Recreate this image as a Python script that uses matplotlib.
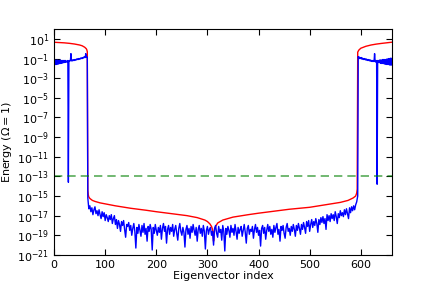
import matplotlib
matplotlib.use("Agg")
import matplotlib.pyplot as plt
import numpy as np

# red curve: (index, log10 energy)
red_x = [0, 10, 20, 30, 40, 50, 55, 60, 63, 64, 65, 66, 67, 68, 70, 75, 80, 90,
         100, 120, 150, 180, 200, 230, 260, 280, 295, 300, 305, 308, 310, 311,
         312, 313, 314, 316, 320, 330, 350, 380, 400, 430, 460, 500, 530, 560,
         575, 585, 590, 592, 593, 594, 596, 600, 610, 620, 630, 640, 650, 660]
red_log = [0.66, 0.63, 0.6, 0.55, 0.48, 0.38, 0.3, 0.15, 0.0, -0.1, -0.3, -14.4,
           -14.9, -15.1, -15.25, -15.45, -15.55, -15.7, -15.8, -16.0, -16.25,
           -16.45, -16.6, -16.8, -17.0, -17.2, -17.45, -17.6, -17.85, -18.1,
           -18.4, -18.7, -19.6, -18.9, -18.5, -18.1, -17.75, -17.45, -17.15,
           -16.9, -16.75, -16.55, -16.35, -16.15, -15.9, -15.65, -15.45, -15.2,
           -15.0, -14.7, -14.3, -0.35, -0.15, 0.05, 0.25, 0.38, 0.47, 0.54,
           0.6, 0.66]

# blue curve, left block (indices 0..65)
blue_left = [-1.1, -1.65, -1.15, -1.6, -1.2, -1.6, -1.15, -1.55, -1.2, -1.55,
             -1.2, -1.5, -1.15, -1.5, -1.2, -1.45, -1.2, -1.45, -1.2, -1.4,
             -1.2, -1.4, -1.2, -1.35, -1.25, -1.35, -1.3, -1.2, -13.6, -1.3,
             -1.2, -1.25, -1.2, -0.5, -1.2, -1.25, -1.15, -1.2, -1.15, -1.2,
             -1.1, -1.15, -1.1, -1.15, -1.05, -1.1, -1.05, -1.1, -1.0, -1.05,
             -1.0, -1.05, -0.95, -1.0, -0.95, -1.0, -0.9, -0.95, -0.85, -0.9,
             -0.85, -0.9, -0.5, -0.85, -0.8, -0.9]

# blue curve, middle block (indices 66..594, every 2nd)
blue_mid = [
    -15.2, -16.3, -16.0, -16.6, -16.2, -16.9, -16.4, -16.1, -16.8, -16.5,
    -17.0, -16.4, -16.9, -17.3, -16.6, -17.1, -16.7, -17.5, -16.9, -17.2,
    -17.6, -17.0, -17.4, -16.9, -17.8, -17.3, -17.0, -17.9, -17.4, -18.3,
    -17.5, -17.9, -18.6, -17.6, -18.0, -17.5, -18.4, -19.2, -17.9, -18.1,
    -17.7, -18.5, -18.0, -19.0, -18.3, -17.8, -18.6, -20.3, -18.2, -18.8,
    -17.9, -18.5, -19.1, -18.0, -18.7, -17.8, -18.9, -18.3, -19.6, -18.1,
    -18.6, -17.9, -18.4, -20.5, -18.2, -18.8, -17.9, -18.5, -19.0, -18.2,
    -18.7, -18.0, -19.4, -18.3, -17.8, -18.6, -18.1, -19.8, -18.4, -18.0,
    -18.9, -18.2, -18.6, -17.9, -19.1, -18.4, -18.0, -18.8, -19.5, -18.3,
    -17.8, -18.6, -19.0, -18.2, -18.7, -20.2, -18.4, -18.0, -18.9, -18.3,
    -19.3, -18.1, -18.7, -17.9, -18.5, -19.0, -18.2, -19.6, -18.4, -18.0,
    -18.8, -18.3, -19.1, -18.0, -18.6, -20.4, -18.5, -18.1, -18.9, -18.4,
    -18.2, -19.0, -18.6, -20.0, -18.3, -18.0, -18.8, -19.2, -18.1, -18.7,
    -18.4, -19.5, -18.0, -18.6, -20.6, -18.3, -18.9, -18.1, -18.5, -19.2,
    -18.0, -18.7, -18.3, -19.0, -17.9, -18.6, -19.4, -18.2, -18.8, -18.4,
    -18.1, -19.1, -18.5, -17.9, -18.7, -19.8, -18.3, -18.0, -18.9, -18.4,
    -18.6, -18.1, -19.3, -18.4, -17.9, -18.7, -18.2, -19.0, -18.5, -20.1,
    -18.3, -18.0, -18.8, -18.2, -19.4, -18.5, -17.9, -18.6, -18.1, -18.9,
    -18.4, -19.2, -18.0, -18.7, -18.2, -17.8, -18.9, -18.4, -19.6, -18.1,
    -18.5, -18.0, -18.8, -19.3, -18.2, -17.8, -18.6, -18.3, -19.0, -18.1,
    -18.6, -17.9, -18.4, -19.1, -18.0, -18.5, -17.8, -18.3, -18.9, -17.9,
    -18.4, -17.7, -18.2, -18.8, -17.6, -18.1, -17.5, -18.6, -17.9, -17.4,
    -18.2, -17.6, -18.0, -17.3, -17.8, -18.7, -17.4, -17.9, -17.2, -17.7,
    -17.1, -17.8, -17.3, -18.4, -16.9, -17.5, -17.0, -17.6, -16.8, -17.3,
    -16.9, -17.5, -16.6, -17.1, -17.8, -16.8, -17.2, -16.5, -17.0, -16.7,
    -17.1, -16.4, -16.9, -16.3, -16.8, -17.3, -16.2, -16.7, -16.1, -16.5,
    -16.0, -16.4, -15.9, -15.6, -15.0]

# blue curve, right block (indices 595..660)
blue_right = [-0.8, -0.95, -0.85, -1.0, -0.9, -1.0, -0.9, -1.05, -0.95, -1.05,
              -1.0, -1.1, -1.0, -1.1, -1.05, -1.15, -1.05, -1.15, -1.1, -1.2,
              -1.1, -1.2, -1.15, -1.25, -1.15, -1.25, -1.2, -1.3, -1.2, -1.3,
              -1.2, -1.3, -0.5, -1.25, -1.35, -1.2, -1.35, -13.8, -1.2, -1.4,
              -1.2, -1.4, -1.15, -1.45, -1.15, -1.5, -1.15, -1.5, -1.1, -1.5,
              -1.1, -1.55, -1.1, -1.55, -1.1, -1.6, -1.05, -1.6, -1.05, -1.6,
              -1.0, -1.65, -1.0, -1.65, -0.95, -1.65]

threshold = 1e-13

blue_x = np.r_[np.arange(0, 66), np.arange(66, 595, 2), np.arange(595, 661)]
blue_y = 10.0 ** np.array(blue_left + blue_mid + blue_right)
red_y = 10.0 ** np.array(red_log)

plt.rcParams['font.size'] = 8
fig = plt.figure(figsize=(4.36, 2.91), dpi=100)
ax = fig.add_axes([0.124, 0.124, 0.775, 0.776])

ax.semilogy(red_x, red_y, color='r', lw=1.0)
ax.semilogy(blue_x, blue_y, color='b', lw=1.0)
ax.axhline(threshold, color='g', alpha=0.65, lw=1.2, ls=(0, (5, 3)))

ax.set_xlim(0, 661)
ax.set_ylim(1e-21, 1e2)
ax.set_yticks(10.0 ** np.arange(-21, 2, 2))
ax.minorticks_off()
ax.tick_params(direction='in', top=True, right=True, length=4, labelsize=8)
ax.set_xlabel("Eigenvector index", fontsize=8, labelpad=1)
ax.set_ylabel(r"Energy ($\Omega=1$)", fontsize=8, labelpad=2)

fig.savefig("out.png", dpi=100, facecolor='white')
